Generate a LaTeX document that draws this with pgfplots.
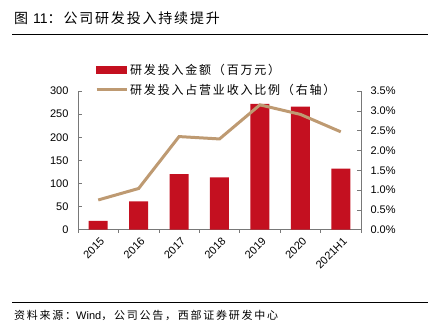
\documentclass[border=0pt]{standalone}
\usepackage{pgfplots}
\pgfplotsset{compat=1.18}
\usepackage{fontspec}
\setmainfont{Liberation Sans}
\newfontfamily\cjk{Noto Sans CJK SC}
\newfontfamily\cjktitle{Noto Sans CJK SC}[LetterSpace=13]
\newfontfamily\cjkleg{Noto Sans CJK SC}[LetterSpace=15]
\newfontfamily\cjksrc{Noto Sans CJK SC}[LetterSpace=16]
\definecolor{barred}{RGB}{196,16,32}
\definecolor{lntan}{RGB}{190,154,114}
\definecolor{axgray}{RGB}{120,120,120}
\begin{document}
\begin{tikzpicture}
\useasboundingbox (0,0) rectangle (431bp,328bp);
% title and rules
\node[anchor=west,inner sep=0pt] at (14bp,309.5bp) {\fontsize{14bp}{16bp}\selectfont{\cjktitle 图 }11{\cjktitle ：公司研发投入持续提升}};
\draw[black,line width=0.9bp] (12bp,294bp) -- (428bp,294bp);
\draw[black,line width=0.9bp] (12bp,25.7bp) -- (428bp,25.7bp);
\node[anchor=west,inner sep=0pt] at (14bp,13bp) {\fontsize{11bp}{12bp}\selectfont{\cjksrc 资料来源：}Wind{\cjksrc ，公司公告，西部证券研发中心}};
\begin{axis}[
  at={(78bp,98.3bp)}, anchor=south west,
  scale only axis, width=283bp, height=138.7bp,
  xmin=-0.5, xmax=6.5, ymin=0, ymax=300,
  axis y line*=left, axis x line*=bottom,
  axis line style={axgray, line width=0.6bp},
  xtick={0,...,6},
  xticklabels={2015,2016,2017,2018,2019,2020,2021H1},
  minor xtick={-0.5,0.5,...,6.5},
  major x tick style={draw=none},
  minor tick length=3bp,
  ytick={0,50,...,300},
  major tick length=4bp,
  tick style={axgray, line width=0.6bp},
  tick align=inside,
  ticklabel style={font=\fontsize{11bp}{13bp}\selectfont},
  /pgf/number format/assume math mode=true,
  xticklabel style={rotate=45, anchor=north east, inner sep=1bp, yshift=-2bp},
  yticklabel style={xshift=-6bp},
  ybar, bar width=19bp,
]
\addplot[fill=barred, draw=none] coordinates {(0,19) (1,61) (2,120) (3,113) (4,272) (5,266) (6,132)};
\end{axis}
\begin{axis}[
  at={(78bp,98.3bp)}, anchor=south west,
  scale only axis, width=283bp, height=138.7bp,
  xmin=-0.5, xmax=6.5, ymin=0, ymax=3.5,
  axis y line*=right, axis x line=none,
  axis line style={axgray, line width=0.6bp},
  ytick={0,0.5,...,3.5},
  major tick length=4bp,
  tick style={axgray, line width=0.6bp},
  tick align=inside,
  ticklabel style={font=\fontsize{11bp}{13bp}\selectfont},
  yticklabel={\pgfmathprintnumber[assume math mode=true,fixed,fixed zerofill,precision=1]{\tick}\%},
  yticklabel style={xshift=6bp},
  legend style={at={(0.06,1.21)}, anchor=north west, draw=none, fill=none,
    font=\fontsize{12bp}{14bp}\selectfont\cjkleg, row sep=4bp, inner sep=0pt},
  legend cell align=left,
]
\addlegendimage{legend image code/.code={\fill[barred] (0bp,-3.5bp) rectangle (30bp,3.5bp);}}
\addlegendentry{研发投入金额（百万元）}
\addplot[lntan, line width=3bp, mark=none, legend image code/.code={\draw[lntan,line width=3bp] (0bp,0bp) -- (30bp,0bp);}] coordinates {(0,0.75) (1,1.04) (2,2.35) (3,2.29) (4,3.15) (5,2.91) (6,2.47)};
\addlegendentry{研发投入占营业收入比例（右轴）}
\end{axis}
\end{tikzpicture}
\end{document}
